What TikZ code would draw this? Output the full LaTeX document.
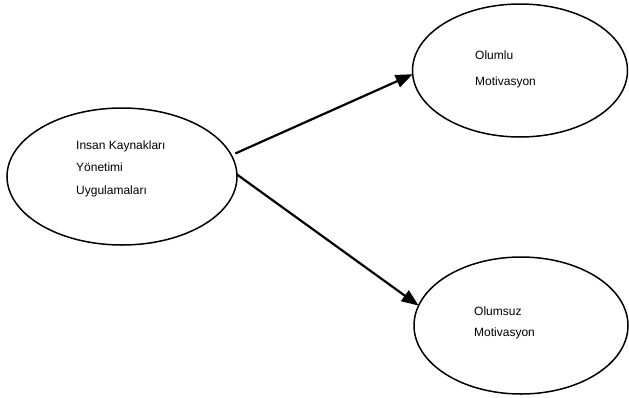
\documentclass[tikz,border=0pt]{standalone}
\usepackage{fontspec}
\setmainfont{Liberation Sans}
\usetikzlibrary{shapes.geometric,arrows.meta}
\begin{document}
\begin{tikzpicture}[x=1pt,y=-1pt,
  oval/.style={draw=black,line width=1.5pt,ellipse,inner sep=0pt,outer sep=0pt},
  label text/.style={align=left,anchor=north west,inner sep=0pt},
  conn/.style={line width=2.2pt,-{Triangle[length=17pt,width=13pt]}}]
\useasboundingbox (0,0) rectangle (629,397);
\node[oval,minimum width=230pt,minimum height=137pt] (L) at (122,176.5) {};
\node[oval,minimum width=215pt,minimum height=133pt] (T) at (520,70.5) {};
\node[oval,minimum width=214pt,minimum height=137pt] (B) at (521,325.5) {};
\node[label text,font=\fontsize{12}{22.5}\selectfont] (Lt) at (76,140.5) {Insan Kaynakları\\Yönetimi\\Uygulamaları};
\node[label text,font=\fontsize{12}{26.5}\selectfont] (Tt) at (475,50.5) {Olumlu\\Motivasyon};
\node[label text,font=\fontsize{12}{21.5}\selectfont] (Bt) at (474,306.5) {Olumsuz\\Motivasyon};
\draw[conn] ([xshift=5pt]L.12) -- (T.182);
\draw[conn] (L.1) -- (B.169);
\end{tikzpicture}
\end{document}
